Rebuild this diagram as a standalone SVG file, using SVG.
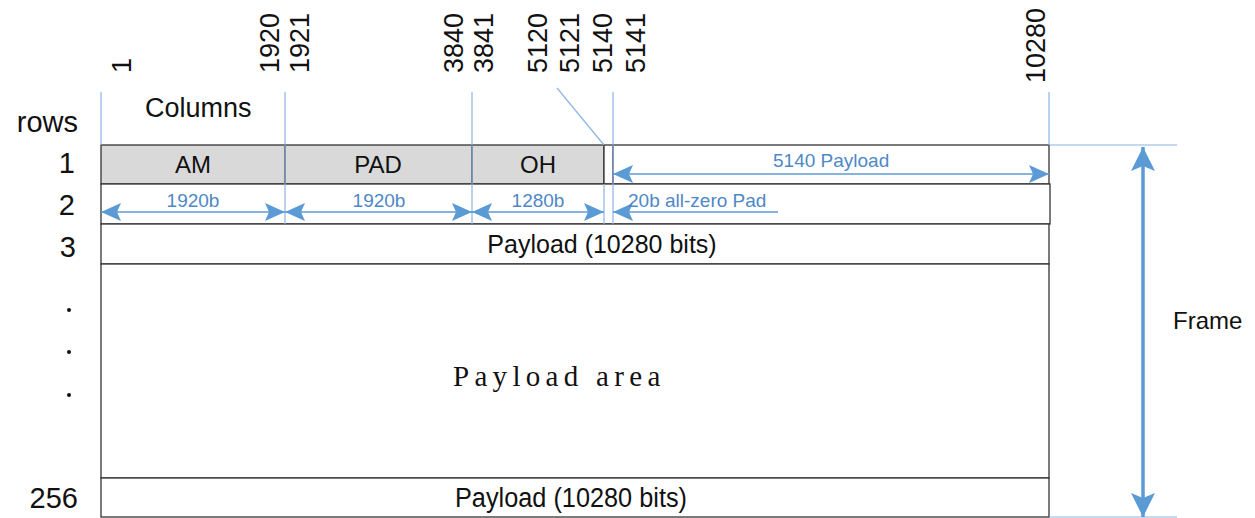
<svg xmlns="http://www.w3.org/2000/svg" width="1255" height="518" viewBox="0 0 1255 518">
<defs>
<style>
.lbl{font-family:"Liberation Sans",Arial,sans-serif;fill:#111;}
.num{font-family:"Liberation Sans",Arial,sans-serif;font-size:27px;fill:#111;}
.row{font-family:"Liberation Sans",Arial,sans-serif;font-size:29px;fill:#111;text-anchor:end;}
.cell{fill:#ffffff;stroke:#333;stroke-width:1.3;}
.gray{fill:#d9d9d9;stroke:#333;stroke-width:1.3;}
.ctext{font-family:"Liberation Sans",Arial,sans-serif;font-size:24px;fill:#111;text-anchor:middle;}
.blue{font-family:"Liberation Sans",Arial,sans-serif;font-size:19px;fill:#4e88c7;}
.guide{stroke:#8db4e2;stroke-width:1.2;fill:none;}
.dim{stroke:#5b9bd5;stroke-width:1.3;fill:none;}
</style>
<marker id="ah" viewBox="0 0 20 18" refX="20" refY="9" markerWidth="20" markerHeight="18" markerUnits="userSpaceOnUse" orient="auto-start-reverse">
<path d="M0,0 L20,9 L0,18 L4,9 z" fill="#5b9bd5"/>
</marker>
<marker id="bh" viewBox="0 0 24 24" refX="24" refY="12" markerWidth="24" markerHeight="24" markerUnits="userSpaceOnUse" orient="auto-start-reverse">
<path d="M0,0 L24,12 L0,24 L5,12 z" fill="#5b9bd5"/>
</marker>
</defs>
<rect width="1255" height="518" fill="#ffffff"/>

<g id="column-numbers">
<text class="num" transform="translate(131,73) rotate(-90)">1</text>
<text class="num" transform="translate(279,73) rotate(-90)">1920</text>
<text class="num" transform="translate(309,73) rotate(-90)">1921</text>
<text class="num" transform="translate(463,73) rotate(-90)">3840</text>
<text class="num" transform="translate(493,73) rotate(-90)">3841</text>
<text class="num" transform="translate(547,73) rotate(-90)">5120</text>
<text class="num" transform="translate(579,73) rotate(-90)">5121</text>
<text class="num" transform="translate(612,73) rotate(-90)">5140</text>
<text class="num" transform="translate(645,73) rotate(-90)">5141</text>
<text class="num" transform="translate(1045,83) rotate(-90)">10280</text>
</g>

<g id="headers">
<text class="lbl" x="145" y="117" font-size="27">Columns</text>
<text class="row" x="78" y="132" font-size="31">rows</text>
<text class="row" x="75" y="173">1</text>
<text class="row" x="75" y="215">2</text>
<text class="row" x="76" y="257">3</text>
<circle cx="69" cy="310" r="2" fill="#111"/>
<circle cx="69" cy="352" r="2" fill="#111"/>
<circle cx="69" cy="395" r="2" fill="#111"/>
<text class="row" x="78" y="508">256</text>
</g>

<g id="row1">
<rect id="am" class="gray" x="101" y="145" width="184" height="39"/>
<text class="ctext" x="193" y="173">AM</text>
<rect id="pad" class="gray" x="285" y="145" width="187" height="39"/>
<text class="ctext" x="378" y="173">PAD</text>
<rect id="oh" class="gray" x="472" y="145" width="132" height="39"/>
<text class="ctext" x="538" y="173">OH</text>
<rect id="gap" class="cell" x="604" y="145" width="9" height="39"/>
<rect id="payload-half" class="cell" x="613" y="145" width="436" height="39"/>
</g>

<g id="row2">
<rect class="cell" x="101" y="184" width="949" height="40"/>
</g>

<g id="row3">
<rect class="cell" x="101" y="224" width="948" height="40"/>
<text class="lbl" x="602" y="253" font-size="25" text-anchor="middle">Payload (10280 bits)</text>
</g>

<g id="payload-area">
<rect class="cell" x="101" y="264" width="948" height="214"/>
<text font-family="'Liberation Serif','Times New Roman',serif" font-size="29" letter-spacing="5.3" fill="#111" x="453" y="386">Payload area</text>
</g>

<g id="row256">
<rect class="cell" x="101" y="478" width="948" height="39"/>
<text class="lbl" x="571" y="507" font-size="27" text-anchor="middle" textLength="232" lengthAdjust="spacingAndGlyphs">Payload (10280 bits)</text>
</g>

<g id="connectors">
<line class="guide" x1="101" y1="92" x2="101" y2="145"/>
<line class="guide" x1="285" y1="92" x2="285" y2="224"/>
<line class="guide" x1="472" y1="92" x2="472" y2="224"/>
<line class="guide" x1="604" y1="184" x2="604" y2="224"/>
<line class="guide" x1="613" y1="92" x2="613" y2="224"/>
<line class="guide" x1="1049" y1="92" x2="1049" y2="145"/>
<line class="guide" x1="557" y1="88" x2="604" y2="145"/>
<line class="guide" x1="1049" y1="145" x2="1177" y2="145"/>
<line class="guide" x1="1049" y1="517" x2="1177" y2="517"/>

<line class="dim" x1="613" y1="174" x2="1049" y2="174" marker-start="url(#ah)" marker-end="url(#ah)"/>
<rect x="772" y="150" width="118" height="23" fill="#fff"/>
<text class="blue" x="773" y="167">5140 Payload</text>

<line class="dim" x1="101" y1="212" x2="285" y2="212" marker-start="url(#ah)" marker-end="url(#ah)"/>
<rect x="166" y="189" width="56" height="22" fill="#fff"/>
<text class="blue" x="193" y="207" text-anchor="middle">1920b</text>

<line class="dim" x1="285" y1="212" x2="472" y2="212" marker-start="url(#ah)" marker-end="url(#ah)"/>
<rect x="351" y="189" width="56" height="22" fill="#fff"/>
<text class="blue" x="379" y="207" text-anchor="middle">1920b</text>

<line class="dim" x1="472" y1="212" x2="604" y2="212" marker-start="url(#ah)" marker-end="url(#ah)"/>
<rect x="510" y="189" width="56" height="22" fill="#fff"/>
<text class="blue" x="538" y="207" text-anchor="middle">1280b</text>

<line class="dim" x1="613" y1="212" x2="778" y2="212" marker-start="url(#ah)"/>
<rect x="633" y="189" width="131" height="22" fill="#fff"/>
<text class="blue" x="628" y="207">20b all-zero Pad</text>

<line x1="1143" y1="147" x2="1143" y2="517" stroke="#5b9bd5" stroke-width="3.5" marker-start="url(#bh)" marker-end="url(#bh)"/>
</g>

<g id="frame-label">
<text class="lbl" x="1173" y="329" font-size="24">Frame</text>
</g>
</svg>
